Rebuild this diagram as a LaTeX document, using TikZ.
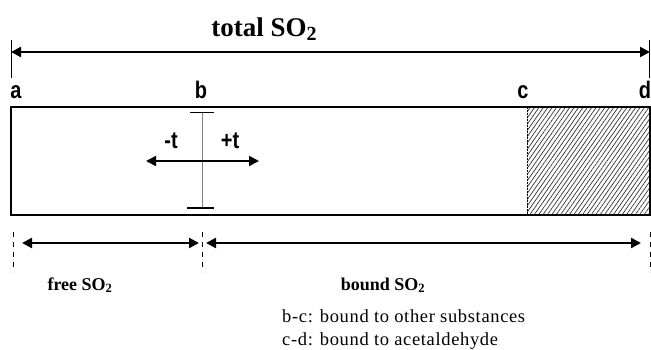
\documentclass[tikz,border=0pt]{standalone}
\usepackage{fontspec}
\setmainfont{Liberation Serif}
\newfontfamily\arialfont{Liberation Sans}
\newfontfamily\wideserif[LetterSpace=3.5]{Liberation Serif}
\usetikzlibrary{arrows.meta,patterns.meta}
\tikzset{
  dimarrow/.style={line width=2.2pt,{Triangle[length=10pt,width=10pt]}-{Triangle[length=10pt,width=10pt]}},
  lettr/.style={font=\arialfont\bfseries\fontsize{20}{20}\selectfont,inner sep=0pt,yscale=1.2},
  ticks/.style={line width=1pt},
  dashv/.style={line width=1pt,dash pattern=on 5pt off 5pt},
  rmtext/.style={font=\wideserif\fontsize{18.5}{18.5}\selectfont,inner sep=0pt,anchor=base west},
  bdtext/.style={font=\rmfamily\bfseries\fontsize{18}{18}\selectfont,inner sep=0pt,anchor=base},
}
\begin{document}
\begin{tikzpicture}[x=1pt,y=-1pt]
\useasboundingbox (0,0) rectangle (651,350);
% title
\node[font=\rmfamily\bfseries\fontsize{27}{27}\selectfont,inner sep=0pt,anchor=base] (title) at (264,37) {total SO\raisebox{-4pt}{\fontsize{20}{20}\selectfont 2}};
% total arrow
\coordinate (tl) at (11,52);
\coordinate (tr) at (650,52);
\draw[ticks] (11,40) -- (11,78);
\draw[ticks] (649.5,40) -- (649.5,78);
\draw[dimarrow] (tl) -- (tr);
% letters
\node[lettr,anchor=base] (la) at (16,99) {a};
\node[lettr,anchor=base] (lb) at (201,99) {b};
\node[lettr,anchor=base] (lc) at (523,99) {c};
\node[lettr,anchor=base] (ld) at (645,99) {d};
% hatched part
\fill[pattern={Lines[angle=55,distance=3.6pt,line width=0.7pt]},pattern color=black!80] (527,107) rectangle (650,215);
\draw[line width=0.6pt,dash pattern=on 2pt off 1pt] (527,107) -- (527,215);
% main box
\draw[line width=2.2pt] (11,107) rectangle (650,215);
% I-beam
\draw[gray,line width=0.8pt] (202,113) -- (202,208);
\draw[line width=1pt] (190,113) -- (214,113);
\draw[line width=1pt] (187,208) -- (214,208);
\coordinate (tleft) at (146,161);
\coordinate (tright) at (259,161);
\draw[dimarrow,line width=2pt] (tleft) -- (tright);
\node[lettr,anchor=base] (mt) at (171,149) {-t};
\node[lettr,anchor=base] (pt) at (230,149) {+t};
% dashed verticals
\draw[dashv] (13,232) -- (13,272);
\draw[dashv] (202,232) -- (202,272);
\draw[dashv] (650,232) -- (650,272);
% free / bound arrows
\coordinate (f1) at (22,243);
\coordinate (f2) at (199,243);
\coordinate (b1) at (206,243);
\coordinate (b2) at (641,243);
\draw[dimarrow] (f1) -- (f2);
\draw[dimarrow] (b1) -- (b2);
\node[bdtext] (free) at (80,290) {free SO\textsubscript{2}};
\node[bdtext] (bound) at (383,290) {bound SO\textsubscript{2}};
\node[rmtext] (bc) at (282,322) {b-c: bound to other substances};
\node[rmtext] (cd) at (282,345) {c-d: bound to acetaldehyde};
\end{tikzpicture}
\end{document}
